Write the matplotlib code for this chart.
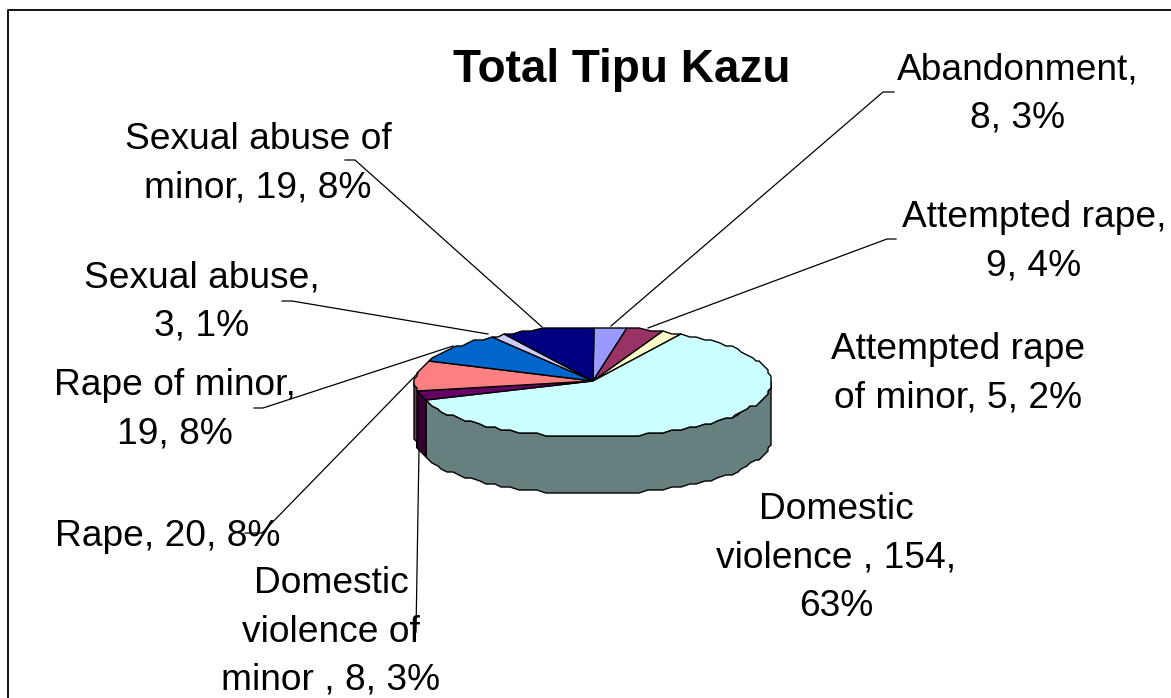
import numpy as np
import matplotlib
matplotlib.use('Agg')
import matplotlib.pyplot as plt

plt.rcParams['font.family'] = ['Liberation Sans', 'DejaVu Sans']

categories = ['Abandonment', 'Attempted rape', 'Attempted rape of minor', 'Domestic violence',
              'Domestic violence of minor', 'Rape', 'Rape of minor', 'Sexual abuse', 'Sexual abuse of minor']
values = [8, 9, 5, 154, 8, 20, 19, 3, 19]
top_colors = ['#9999FF', '#993366', '#FFFFCC', '#CCFFFF', '#660066', '#FF8080', '#0066CC', '#CCCCFF', '#000080']
side_colors = ['#666699', '#662244', '#999988', '#668080', '#330033', '#804040', '#003366', '#666680', '#000040']
label_texts = ['Abandonment,\n8, 3%', 'Attempted rape,\n9, 4%', 'Attempted rape\nof minor, 5, 2%',
               'Domestic\nviolence , 154,\n63%', 'Domestic\nviolence of\nminor , 8, 3%', 'Rape, 20, 8%',
               'Rape of minor,\n19, 8%', 'Sexual abuse,\n3, 1%', 'Sexual abuse of\nminor, 19, 8%']
label_pos = [(1018, 94), (1034, 242), (958, 374), (836, 558), (331, 632), (168, 537), (175, 410), (202, 302), (258, 164)]
leaders = [[(611, 326), (883, 92), (894, 92)],
           [(648, 328), (887, 239), (896, 239)],
           None,
           None,
           [(419, 450), (416, 632)],
           [(418, 373), (262, 533), (245, 533)],
           [(453, 346), (263, 408), (254, 408)],
           [(488, 334), (292, 301), (282, 301)],
           [(542, 327), (355, 160), (345, 160)]]

cx, cy = 593, 381
rx, ry = 178, 55
depth = 57


def warp(theta):
    # excel's perspective squeezes the slices towards the sides
    return theta - 9 * np.sin(np.radians(theta)) ** 2


def rim(t):
    r = np.radians(t)
    x = cx + rx * np.sin(r)
    y = cy - ry * np.cos(r)
    # the old export has a bumpy outline, snap to a small grid
    return np.round(x / 3) * 3, np.round(y / 3) * 3 + 1


def arc(a, b):
    n = max(int((b - a) / 3), 2)
    return np.linspace(a, b, n + 1)


fig = plt.figure(figsize=(11.71, 6.98), dpi=100)
ax = fig.add_axes([0, 0, 1, 1])
ax.set_xlim(0, 1171)
ax.set_ylim(698, 0)
ax.axis('off')

# chart border, only left and top are in the picture
ax.plot([7.5, 7.5, 1171], [698, 10, 10], color='black', lw=1.3, zorder=1)

edges = np.concatenate([[0], np.cumsum(values)]) / sum(values) * 360

# side wall
for i in range(len(values)):
    a, b = warp(edges[i]), warp(edges[i + 1])
    a, b = max(a, 90), min(b, 270)
    if b <= a:
        continue
    x, y = rim(arc(a, b))
    ax.fill(np.r_[x, x[::-1]], np.r_[y, y[::-1] + depth], facecolor=side_colors[i],
            edgecolor='black', lw=1, zorder=2)

# top face
for i in range(len(values)):
    x, y = rim(arc(warp(edges[i]), warp(edges[i + 1])))
    ax.fill(np.r_[cx, x], np.r_[cy, y], facecolor=top_colors[i], edgecolor='black', lw=1, zorder=3)

for line in leaders:
    if line is None:
        continue
    ax.plot([p[0] for p in line], [p[1] for p in line], color='black', lw=0.9, zorder=4)

for txt, (px, py) in zip(label_texts, label_pos):
    ax.text(px, py, txt, ha='center', va='center', fontsize=26.7, linespacing=1.49, color='black', zorder=5)

ax.text(622, 70, 'Total Tipu Kazu', ha='center', va='center', fontsize=33, fontweight='bold', color='black', zorder=5)

fig.savefig('out.png', dpi=100)
